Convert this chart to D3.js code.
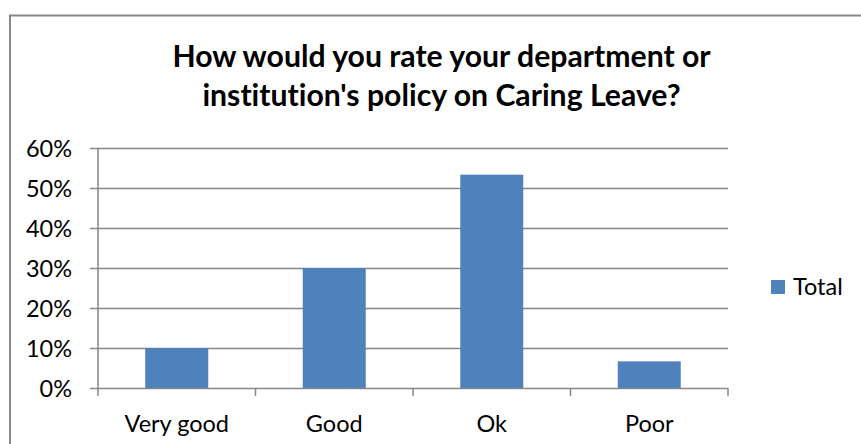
<!DOCTYPE html>
<html>
<head>
<meta charset="utf-8">
<script src="https://cdnjs.cloudflare.com/ajax/libs/d3/7.8.5/d3.min.js"></script>
<style>
  body { margin: 0; background: #fff; }
  svg { display: block; font-family: Lato, "Liberation Sans", sans-serif; font-variant-ligatures: none; }
</style>
</head>
<body>
<div id="chart"></div>
<script>
// survey answers, share of respondents
const categories = ['Very good', 'Good', 'Ok', 'Poor'];
const values = [0.10, 0.30, 0.5333, 0.0667];
const yTicks = [0, 0.1, 0.2, 0.3, 0.4, 0.5, 0.6];
const seriesName = 'Total';
const titleLines = ['How would you rate your department or', "institution's policy on Caring Leave?"];

let width = 861;
let height = 444;
let plot = { left: 98, right: 728, top: 148, bottom: 388 };
let barColor = '#4F81BD';
let lineColor = '#878787';

let svg = d3.select('#chart')
  .append('svg')
  .attr('width', width)
  .attr('height', height);

// chart frame (runs off the right and bottom edges)
svg.append('rect')
  .attr('x', 10)
  .attr('y', 15.5)
  .attr('width', 900)
  .attr('height', 480)
  .attr('fill', 'none')
  .attr('stroke', lineColor)
  .attr('stroke-width', 2);

svg.selectAll('.title')
  .data(titleLines)
  .enter()
  .append('text')
  .attr('class', 'title')
  .attr('x', 441.5)
  .attr('y', (d, i) => 67 + i * 39)
  .attr('text-anchor', 'middle')
  .style('font-weight', 'bold')
  .style('font-size', '30.2px')
  .style('fill', '#000')
  .text(d => d);

let x = d3.scaleBand()
  .domain(categories)
  .range([plot.left, plot.right]);

let y = d3.scaleLinear()
  .domain([0, 0.6])
  .range([plot.bottom, plot.top]);

// gridlines + y axis
let yAxis = d3.axisLeft(y)
  .tickValues(yTicks)
  .tickFormat(d3.format('.0%'))
  .tickSize(-(plot.right - plot.left + 8))
  .tickPadding(0);

let gy = svg.append('g')
  .attr('transform', 'translate(' + (plot.left - 8) + ',0)')
  .call(yAxis);
gy.select('.domain').remove();
gy.selectAll('.tick line')
  .attr('stroke', lineColor)
  .attr('stroke-width', 1.5);
gy.selectAll('.tick text')
  .attr('x', -18)
  .attr('dy', '0.35em')
  .style('font-size', '23.5px')
  .style('font-family', 'Lato, sans-serif')
  .style('fill', '#000');

// vertical axis line
svg.append('line')
  .attr('x1', plot.left).attr('x2', plot.left)
  .attr('y1', plot.top).attr('y2', plot.bottom + 8)
  .attr('stroke', lineColor)
  .attr('stroke-width', 1.5);

// category tick marks between bands
let bounds = categories.map(c => x(c)).concat([plot.right]).slice(1);
svg.selectAll('.xtick')
  .data(bounds)
  .enter()
  .append('line')
  .attr('class', 'xtick')
  .attr('x1', d => d).attr('x2', d => d)
  .attr('y1', plot.bottom).attr('y2', plot.bottom + 8)
  .attr('stroke', lineColor)
  .attr('stroke-width', 1.5);

let barW = x.bandwidth() * 0.4;

svg.selectAll('.bar')
  .data(values)
  .enter()
  .append('rect')
  .attr('class', 'bar')
  .attr('x', (d, i) => x(categories[i]) + (x.bandwidth() - barW) / 2)
  .attr('y', d => y(d))
  .attr('width', barW)
  .attr('height', d => plot.bottom - y(d))
  .attr('fill', barColor);

svg.selectAll('.xlabel')
  .data(categories)
  .enter()
  .append('text')
  .attr('class', 'xlabel')
  .attr('x', d => x(d) + x.bandwidth() / 2)
  .attr('y', 432)
  .attr('text-anchor', 'middle')
  .style('font-size', '23.5px')
  .text(d => d);

// legend
let legend = svg.append('g')
  .attr('transform', 'translate(771,280)');
legend.append('rect')
  .attr('width', 14)
  .attr('height', 14)
  .attr('fill', barColor);
legend.append('text')
  .attr('x', 22)
  .attr('y', 15)
  .style('font-size', '23.5px')
  .text(seriesName);
</script>
</body>
</html>
